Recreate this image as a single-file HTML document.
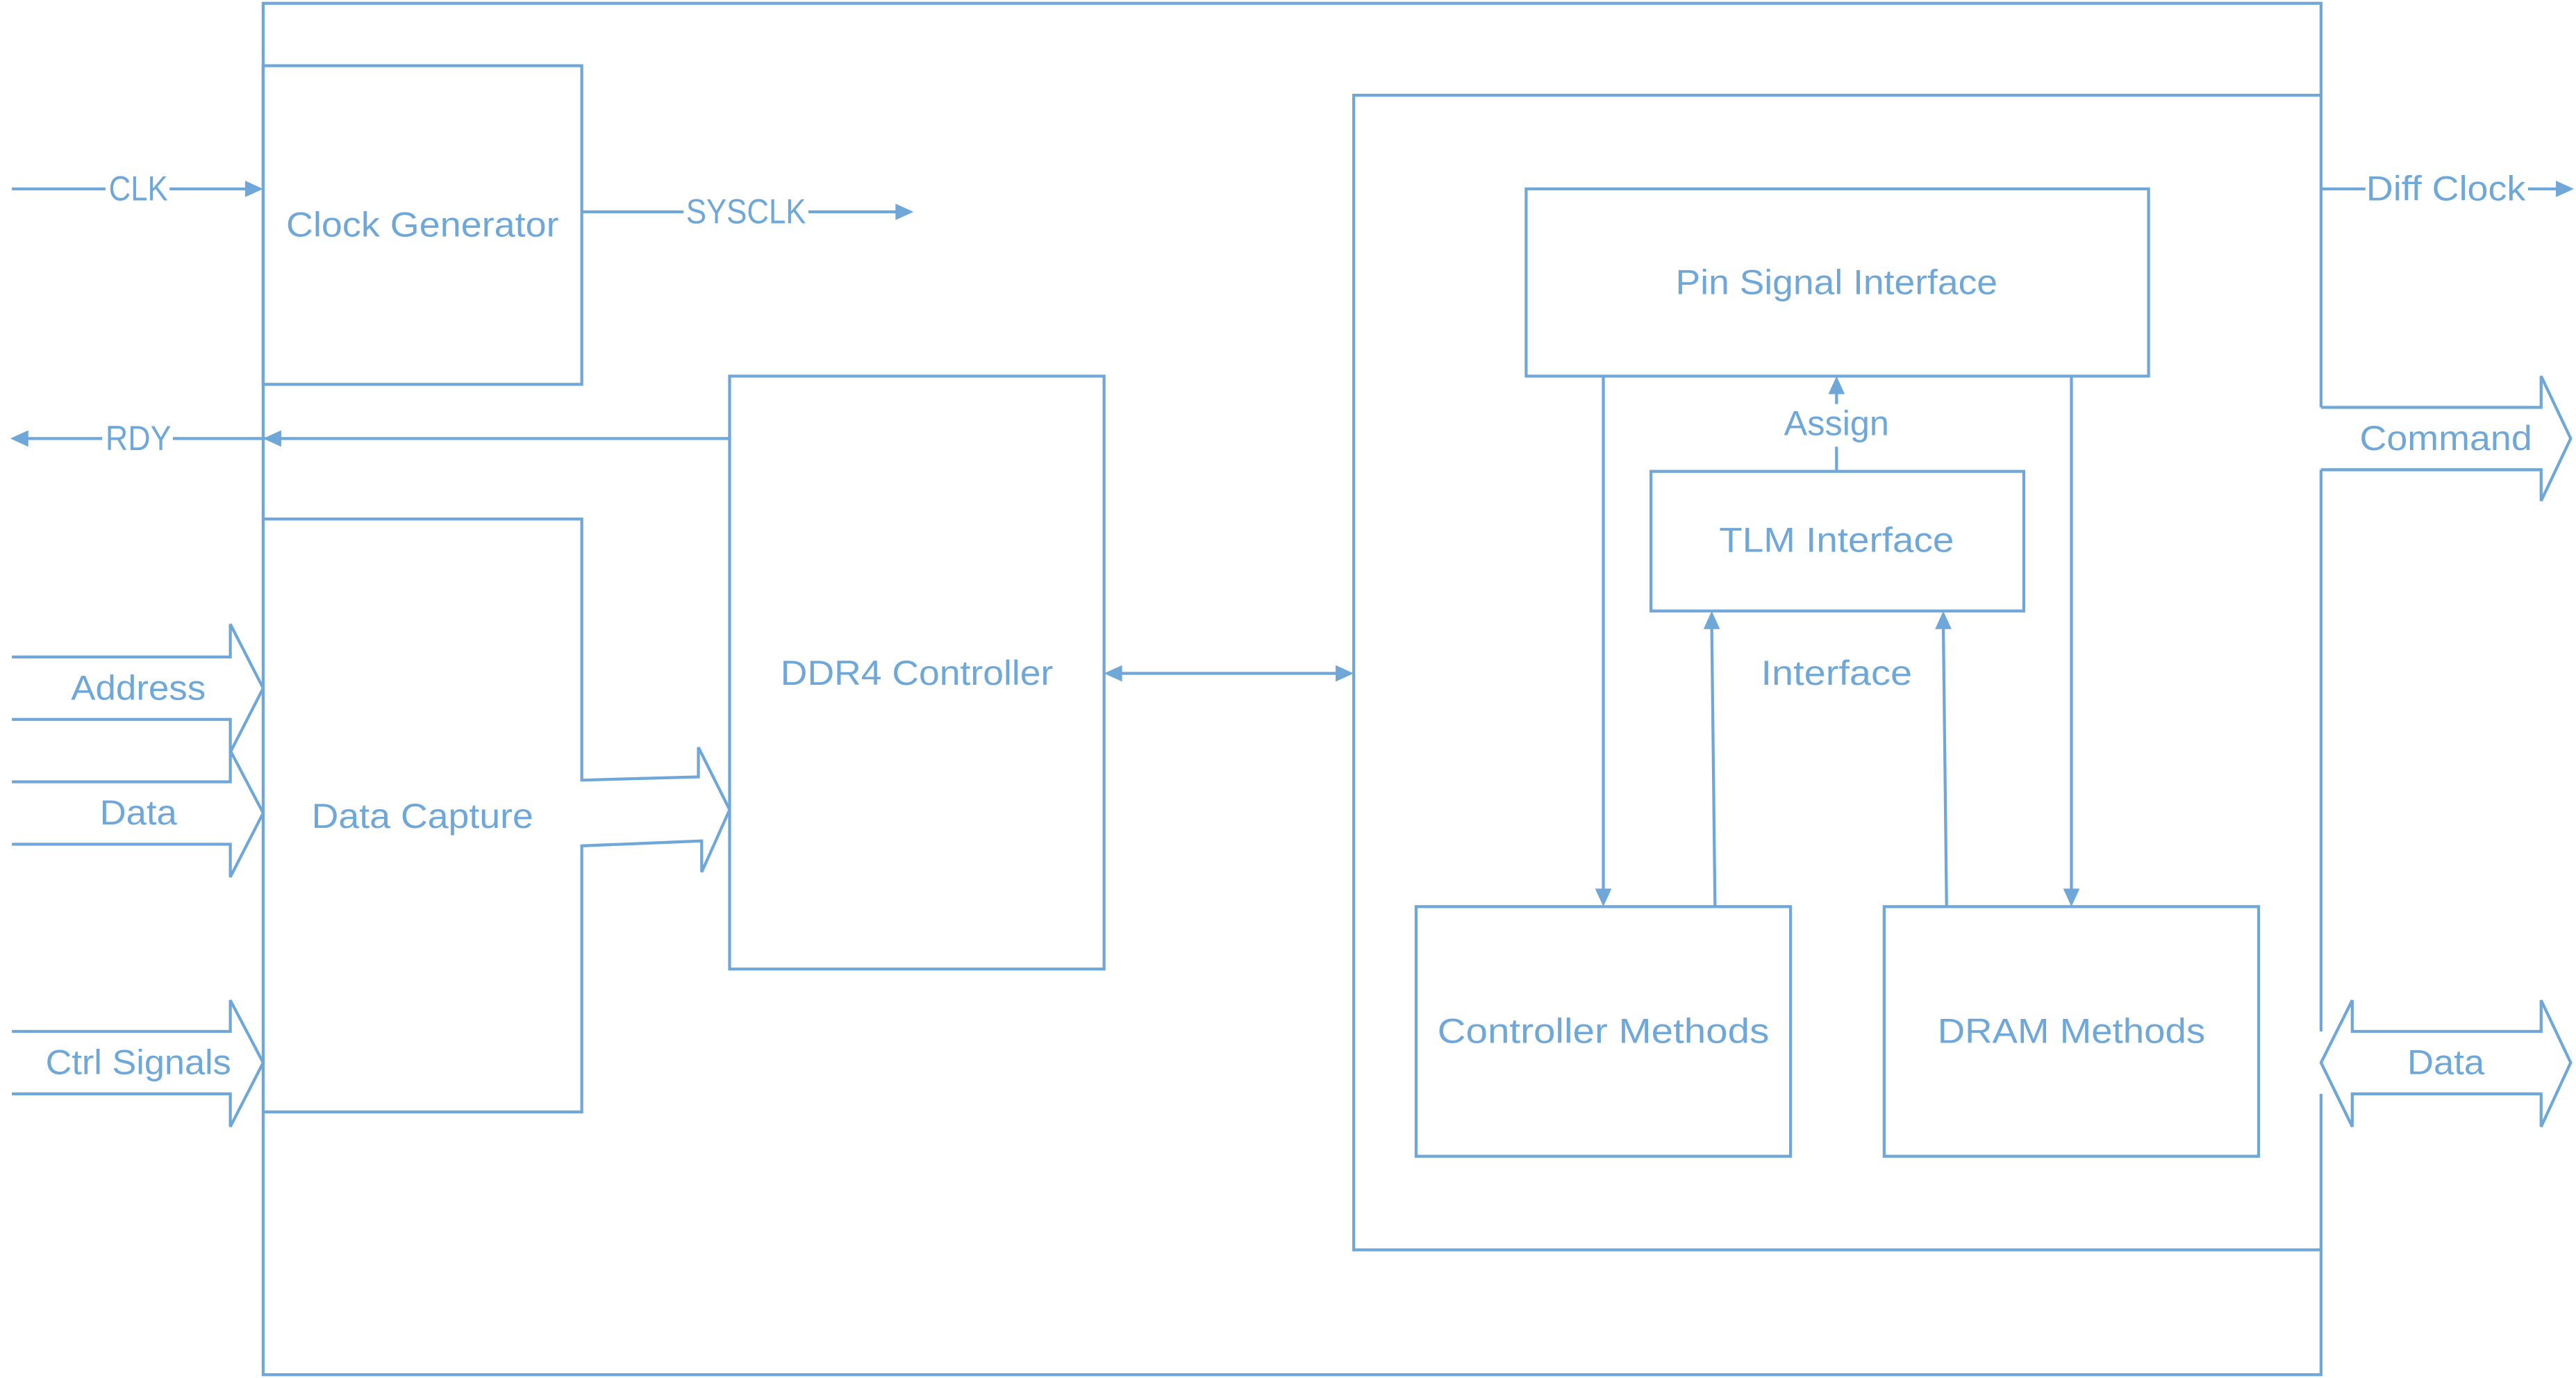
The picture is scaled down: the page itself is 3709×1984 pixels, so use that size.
<!DOCTYPE html>
<html><head><meta charset="utf-8"><style>html,body{margin:0;padding:0;background:#fff}svg{display:block}</style></head>
<body>
<svg width="3709" height="1984" viewBox="0 0 1568 839" xmlns="http://www.w3.org/2000/svg">
<defs>
<marker id="a" markerWidth="6" markerHeight="6" refX="5.5" refY="3" orient="auto" markerUnits="userSpaceOnUse" viewBox="0 0 6 6">
</marker>
</defs>
<g fill="none" stroke="#6fa7d8" stroke-width="1.8">
<!-- outer box -->
<polyline points="1413,248 1413,2 160,2 160,837 1413,837 1413,666"/>
<line x1="1413" y1="286" x2="1413" y2="628"/>
<!-- clock gen -->
<rect x="160" y="40" width="194" height="194"/>
<!-- data capture -->
<polyline points="160,316 354,316 354,475 425,473 425,455 444,493 427,531 427,512 354,515 354,677 160,677"/>
<!-- ddr4 -->
<rect x="444" y="229" width="228" height="361"/>
<!-- inner -->
<polyline points="1413,58 824,58 824,761 1413,761"/>
<rect x="929" y="115" width="379" height="114"/>
<rect x="1005" y="287" width="227" height="85"/>
<rect x="862" y="552" width="228" height="152"/>
<rect x="1147" y="552" width="228" height="152"/>
<!-- lines -->
<line x1="7" y1="115" x2="64" y2="115"/><line x1="103" y1="115" x2="152" y2="115"/>
<line x1="354" y1="129" x2="416" y2="129"/><line x1="492" y1="129" x2="547" y2="129"/>
<line x1="15" y1="267" x2="62" y2="267"/><line x1="105" y1="267" x2="444" y2="267"/>
<line x1="1413" y1="115" x2="1440" y2="115"/><line x1="1539" y1="115" x2="1557" y2="115"/>
<line x1="681" y1="410" x2="815" y2="410"/>
<line x1="1118" y1="287" x2="1118" y2="272"/><line x1="1118" y1="246" x2="1118" y2="238"/>
<line x1="976" y1="229" x2="976" y2="543"/>
<line x1="1044" y1="552" x2="1042" y2="381"/>
<line x1="1185" y1="552" x2="1183" y2="381"/>
<line x1="1261" y1="229" x2="1261" y2="543"/>
<!-- fat arrows left -->
<polyline points="7,400 140,400 140,380 160,419 140,458 140,438 7,438"/>
<polyline points="7,476 140,476 140,457 160,495 140,534 140,514 7,514"/>
<polyline points="7,628 140,628 140,609 160,647 140,686 140,666 7,666"/>
<!-- command -->
<polyline points="1413,248 1547,248 1547,229 1565,267 1547,305 1547,286 1413,286"/>
<!-- data right -->
<polygon points="1413,647 1432,609 1432,628 1547,628 1547,609 1565,647 1547,686 1547,666 1432,666 1432,686"/>
</g>
<g fill="#6fa7d8">
<polygon points="160,115 149,110 149,120"/>
<polygon points="556,129 545,124 545,134"/>
<polygon points="160,267 171,262 171,272"/>
<polygon points="6,267 17,262 17,272"/>
<polygon points="1567,115 1556,110 1556,120"/>
<polygon points="672,410 683,405 683,415"/>
<polygon points="824,410 813,405 813,415"/>
<polygon points="1118,229 1113,240 1123,240"/>
<polygon points="976,552 971,541 981,541"/>
<polygon points="1261,552 1256,541 1266,541"/>
<polygon points="1042,372 1037,383 1047,383"/>
<polygon points="1183,372 1178,383 1188,383"/>
</g>
<g fill="#6fa7d8" font-family="Liberation Sans, sans-serif" font-size="21" text-anchor="middle" lengthAdjust="spacingAndGlyphs">
<text x="257" y="144" textLength="166" lengthAdjust="spacingAndGlyphs">Clock Generator</text>
<text x="257" y="504" textLength="135" lengthAdjust="spacingAndGlyphs">Data Capture</text>
<text x="558" y="417" textLength="166" lengthAdjust="spacingAndGlyphs">DDR4 Controller</text>
<text x="1118" y="179" textLength="196" lengthAdjust="spacingAndGlyphs">Pin Signal Interface</text>
<text x="1118" y="336" textLength="143" lengthAdjust="spacingAndGlyphs">TLM Interface</text>
<text x="976" y="635" textLength="202" lengthAdjust="spacingAndGlyphs">Controller Methods</text>
<text x="1261" y="635" textLength="163" lengthAdjust="spacingAndGlyphs">DRAM Methods</text>
<text x="1118" y="265" textLength="64" lengthAdjust="spacingAndGlyphs">Assign</text>
<text x="1118" y="417" textLength="92" lengthAdjust="spacingAndGlyphs">Interface</text>
<text x="84" y="122" textLength="36" lengthAdjust="spacingAndGlyphs">CLK</text>
<text x="454" y="136" textLength="73" lengthAdjust="spacingAndGlyphs">SYSCLK</text>
<text x="84" y="274" textLength="40" lengthAdjust="spacingAndGlyphs">RDY</text>
<text x="84" y="426" textLength="82" lengthAdjust="spacingAndGlyphs">Address</text>
<text x="84" y="502" textLength="47" lengthAdjust="spacingAndGlyphs">Data</text>
<text x="84" y="654" textLength="113" lengthAdjust="spacingAndGlyphs">Ctrl Signals</text>
<text x="1489" y="122" textLength="97" lengthAdjust="spacingAndGlyphs">Diff Clock</text>
<text x="1489" y="274" textLength="105" lengthAdjust="spacingAndGlyphs">Command</text>
<text x="1489" y="654" textLength="47" lengthAdjust="spacingAndGlyphs">Data</text>
</g>
</svg>
</body></html>
